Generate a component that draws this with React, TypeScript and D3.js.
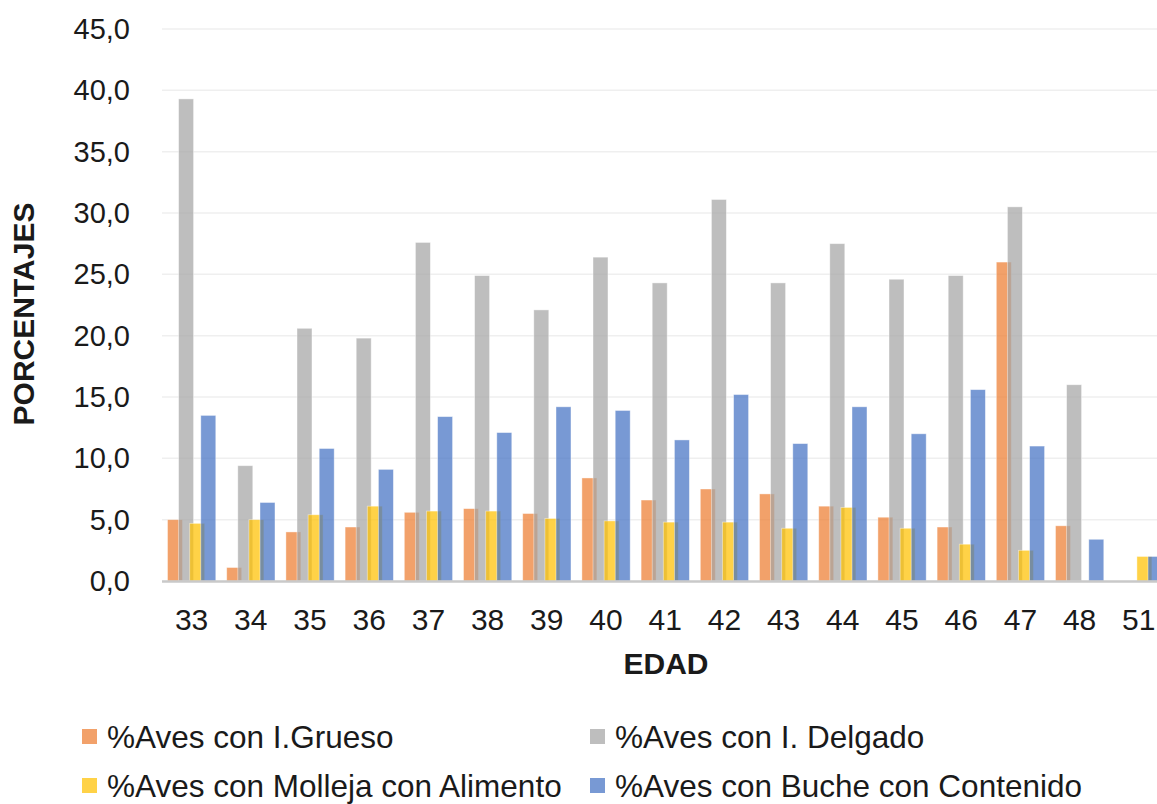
import React from "react";
import * as d3 from "d3";

// Edad (días) en el eje X
const edades = ["33", "34", "35", "36", "37", "38", "39", "40", "41", "42", "43", "44", "45", "46", "47", "48", "51"];

// Porcentajes por serie
const intestinoGrueso = [5.0, 1.1, 4.0, 4.4, 5.6, 5.9, 5.5, 8.4, 6.6, 7.5, 7.1, 6.1, 5.2, 4.4, 26.0, 4.5, 0];
const intestinoDelgado = [39.3, 9.4, 20.6, 19.8, 27.6, 24.9, 22.1, 26.4, 24.3, 31.1, 24.3, 27.5, 24.6, 24.9, 30.5, 16.0, 0];
const mollejaAlimento = [4.7, 5.0, 5.4, 6.1, 5.7, 5.7, 5.1, 4.9, 4.8, 4.8, 4.3, 6.0, 4.3, 3.0, 2.5, 0, 2.0];
const bucheContenido = [13.5, 6.4, 10.8, 9.1, 13.4, 12.1, 14.2, 13.9, 11.5, 15.2, 11.2, 14.2, 12.0, 15.6, 11.0, 3.4, 2.0];

const yTicks = [0, 5, 10, 15, 20, 25, 30, 35, 40, 45];

const series = [
  { name: "%Aves con I.Grueso", values: intestinoGrueso, color: "#ED7D31" },
  { name: "%Aves con I. Delgado", values: intestinoDelgado, color: "#A5A5A5" },
  { name: "%Aves con Molleja con Alimento", values: mollejaAlimento, color: "#FFC000" },
  { name: "%Aves con Buche con Contenido", values: bucheContenido, color: "#4472C4" },
];

const W = 1157;
const H = 804;
const FONT = "'Liberation Sans', Arial, sans-serif";
const FILL_OPACITY = 0.72;

export default function App() {
  const x = d3.scaleBand<string>().domain(edades).range([162, 1168.4]).paddingInner(0).paddingOuter(0);
  const y = d3.scaleLinear().domain([0, 45]).range([581, 29]);
  const bw = x.bandwidth();
  const barW = bw * 0.253;
  const step = bw * 0.1875;
  const start = bw * 0.093;
  const fmt = (v: number) => d3.format(".1f")(v).replace(".", ",");

  const legend = [
    { s: series[0], lx: 82, ly: 729 },
    { s: series[1], lx: 590, ly: 729 },
    { s: series[2], lx: 82, ly: 778 },
    { s: series[3], lx: 590, ly: 778 },
  ];

  return (
    <div style={{ position: "absolute", left: 0, top: 0 }}>
      <svg width={W} height={H} style={{ display: "block", background: "#fff" }} fontFamily={FONT}>
        {/* líneas de cuadrícula */}
        {yTicks.slice(1).map((t) => (
          <line key={t} x1={162} x2={W} y1={y(t)} y2={y(t)} stroke="#EFEFEF" strokeWidth={1.5} />
        ))}
        {/* etiquetas del eje Y */}
        {yTicks.map((t) => (
          <text key={t} x={130} y={y(t)} dy="0.35em" textAnchor="end" fontSize={29} fill="#1a1a1a">
            {fmt(t)}
          </text>
        ))}
        {/* barras */}
        {series.map((s, si) => (
          <g key={s.name}>
            {s.values.map((v, i) =>
              v > 0 ? (
                <rect
                  key={i}
                  x={(x(edades[i]) as number) + start + si * step}
                  y={y(v)}
                  width={barW}
                  height={y(0) - y(v)}
                  fill={s.color}
                  fillOpacity={FILL_OPACITY}
                  stroke="#ffffff"
                  strokeOpacity={0.5}
                  strokeWidth={0.8}
                />
              ) : null
            )}
          </g>
        ))}
        {/* eje X */}
        <line x1={162} x2={W} y1={581.5} y2={581.5} stroke="#C9C9C9" strokeWidth={2.5} />
        {edades.map((e) => (
          <text key={e} x={(x(e) as number) + bw / 2} y={629.5} textAnchor="middle" fontSize={30} fill="#1a1a1a">
            {e}
          </text>
        ))}
        {/* títulos de ejes */}
        <text x={666} y={674} textAnchor="middle" fontSize={30} fontWeight="bold" fill="#1a1a1a">
          EDAD
        </text>
        <text
          transform="translate(34,314) rotate(-90)"
          textAnchor="middle"
          fontSize={30}
          fontWeight="bold"
          fill="#1a1a1a"
        >
          PORCENTAJES
        </text>
        {/* leyenda */}
        {legend.map(({ s, lx, ly }) => (
          <g key={s.name}>
            <rect x={lx} y={ly} width={15} height={15} fill={s.color} fillOpacity={FILL_OPACITY} />
            <text x={lx + 25} y={ly + 18.5} fontSize={31.5} fill="#1a1a1a">
              {s.name}
            </text>
          </g>
        ))}
      </svg>
    </div>
  );
}
